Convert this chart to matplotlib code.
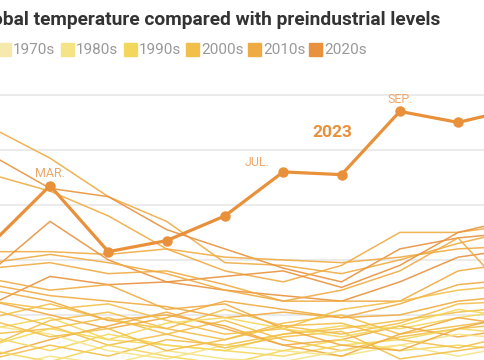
import matplotlib.pyplot as plt
from matplotlib.patches import Rectangle

# Months shown (Feb..Nov), index 1..10
months = [1, 2, 3, 4, 5, 6, 7, 8, 9, 10]

# Temperature above preindustrial levels (°C), one row per past year
years = [2016, 2020, 2019, 2017, 2022, 2021, 2018, 2015,
         2005, 1998, 2007, 2002, 2014, 1995, 2012, 2009, 1987, 1991, 2011, 2010,
         1983, 2006, 2013, 2003, 1997, 2001]
decades = ['2010s', '2020s', '2010s', '2010s', '2020s', '2020s', '2010s', '2010s',
           '2000s', '1990s', '2000s', '2000s', '2010s', '1990s', '2010s', '2000s',
           '1980s', '1990s', '2010s', '2010s', '1980s', '2000s', '2010s', '2000s',
           '1990s', '2000s']
anomalies = [
    [1.68, 1.57, 1.43, 1.34, 1.19, 1.18, 1.15, 1.20, 1.26, 1.31],
    [1.58, 1.46, 1.43, 1.31, 1.24, 1.17, 1.12, 1.24, 1.28, 1.30],
    [1.51, 1.45, 1.36, 1.24, 1.16, 1.12, 1.18, 1.30, 1.30, 1.33],
    [1.23, 1.23, 1.22, 1.24, 1.21, 1.20, 1.19, 1.21, 1.24, 1.25],
    [1.16, 1.34, 1.20, 1.12, 1.09, 1.07, 1.05, 1.12, 1.21, 1.24],
    [1.04, 1.14, 1.11, 1.12, 1.14, 1.16, 1.10, 1.18, 1.30, 1.35],
    [1.19, 1.22, 1.19, 1.15, 1.09, 1.05, 1.09, 1.16, 1.28, 1.05],
    [1.17, 1.19, 1.15, 1.16, 1.11, 1.05, 1.05, 1.05, 1.16, 1.19],
    [0.99, 1.04, 0.98, 0.95, 1.02, 0.96, 0.93, 0.97, 1.04, 1.05],
    [0.95, 0.99, 0.91, 0.89, 0.87, 0.93, 0.96, 0.95, 0.99, 1.02],
    [0.89, 0.98, 1.01, 0.95, 0.91, 0.97, 1.00, 0.93, 0.96, 0.99],
    [1.02, 0.96, 0.89, 0.93, 0.98, 0.91, 0.87, 0.92, 0.95, 0.97],
    [0.85, 0.91, 0.96, 1.01, 0.95, 0.89, 0.91, 0.96, 0.92, 0.95],
    [0.92, 0.87, 0.93, 0.89, 0.87, 0.85, 0.89, 0.91, 0.95, 0.93],
    [1.05, 1.00, 0.95, 0.99, 1.05, 1.02, 0.99, 1.00, 1.05, 1.07],
    [0.84, 0.89, 0.85, 0.91, 0.89, 0.93, 0.95, 0.98, 1.01, 1.03],
    [0.96, 0.93, 0.87, 0.84, 0.89, 0.87, 0.85, 0.89, 0.93, 0.91],
    [0.87, 0.83, 0.89, 0.85, 0.82, 0.87, 0.91, 0.87, 0.89, 0.87],
    [1.09, 1.05, 0.98, 1.00, 0.96, 0.89, 0.85, 0.93, 0.99, 0.96],
    [1.11, 1.07, 1.05, 1.03, 0.99, 1.01, 0.99, 1.04, 1.11, 1.13],
    [0.80, 0.85, 0.82, 0.87, 0.84, 0.83, 0.87, 0.89, 0.85, 0.89],
    [0.93, 0.95, 0.99, 0.93, 0.88, 0.92, 0.94, 0.84, 0.87, 0.90],
    [1.13, 1.09, 1.11, 1.02, 1.04, 0.95, 0.89, 0.87, 0.95, 1.00],
    [1.05, 1.02, 1.04, 0.98, 0.93, 0.95, 1.02, 1.05, 1.09, 1.11],
    [0.89, 0.95, 0.91, 0.97, 0.99, 0.95, 0.92, 0.96, 1.02, 0.99],
    [0.98, 0.92, 0.95, 0.87, 0.91, 0.96, 0.97, 0.91, 0.88, 0.93],
]

# 2023 highlighted
temps_2023 = [1.26, 1.47, 1.23, 1.27, 1.36, 1.52, 1.51, 1.74, 1.70, 1.75]
month_labels = {2: 'MAR.', 6: 'JUL.', 8: 'SEP.'}

decade_names = ['1970s', '1980s', '1990s', '2000s', '2010s', '2020s']
decade_colors = ['#f6e9ad', '#f5e385', '#f3d75c', '#f2bf4a', '#efab43', '#e8923d']
color_of = dict(zip(decade_names, decade_colors))

plt.rcParams['font.family'] = ['Roboto', 'DejaVu Sans']

fig = plt.figure(figsize=(4.85, 3.6), dpi=100)
ax = fig.add_axes([0, 0, 1, 275 / 360])

for yr, dec, vals in zip(years, decades, anomalies):
    ax.plot(months, vals, color=color_of[dec], lw=1.1, alpha=0.9, zorder=2)

ax.plot(months, temps_2023, color='#e8913a', lw=2.3, marker='o', ms=6.5, zorder=5)

# month labels above selected 2023 points (JUL. sits left of its point)
for m, txt in month_labels.items():
    v = temps_2023[m - 1]
    if txt == 'JUL.':
        ax.text(m - 0.45, v + 0.035, txt, ha='center', va='center', fontsize=9,
                color='#eda76d')
    else:
        ax.text(m, v + 0.045, txt, ha='center', va='center', fontsize=9,
                color='#eda76d')
ax.text(6.85, 1.665, '2023', ha='center', va='center', fontsize=12.5,
        fontweight='bold', color='#e8913d')

ax.set_xlim(1.142, 9.461)
ax.set_ylim(0.836, 1.836)
ax.set_yticks([1.0, 1.2, 1.4, 1.6, 1.8])
ax.grid(axis='y', color='#e6e6e6', lw=1.1, zorder=0)
ax.set_axisbelow(True)
ax.tick_params(left=False, bottom=False, labelleft=False, labelbottom=False)
for s in ax.spines.values():
    s.set_visible(False)

# Title (cut at the left like the source)
fig.text(440 / 485, 1 - 25 / 360, 'Global temperature compared with preindustrial levels',
         ha='right', va='baseline', fontsize=13.8, fontweight='bold', color='#333333')

# Legend row
sq_left = [-2, 61, 124, 186, 248, 309]
for x0, name, col in zip(sq_left, decade_names, decade_colors):
    fig.patches.append(Rectangle((x0 / 485, 1 - 56 / 360), 13 / 485, 13 / 360,
                                 transform=fig.transFigure, color=col))
    fig.text((x0 + 15) / 485, 1 - 49.5 / 360, name, ha='left', va='center',
             fontsize=11, color='#999999')

fig.savefig('out.png', dpi=100)
